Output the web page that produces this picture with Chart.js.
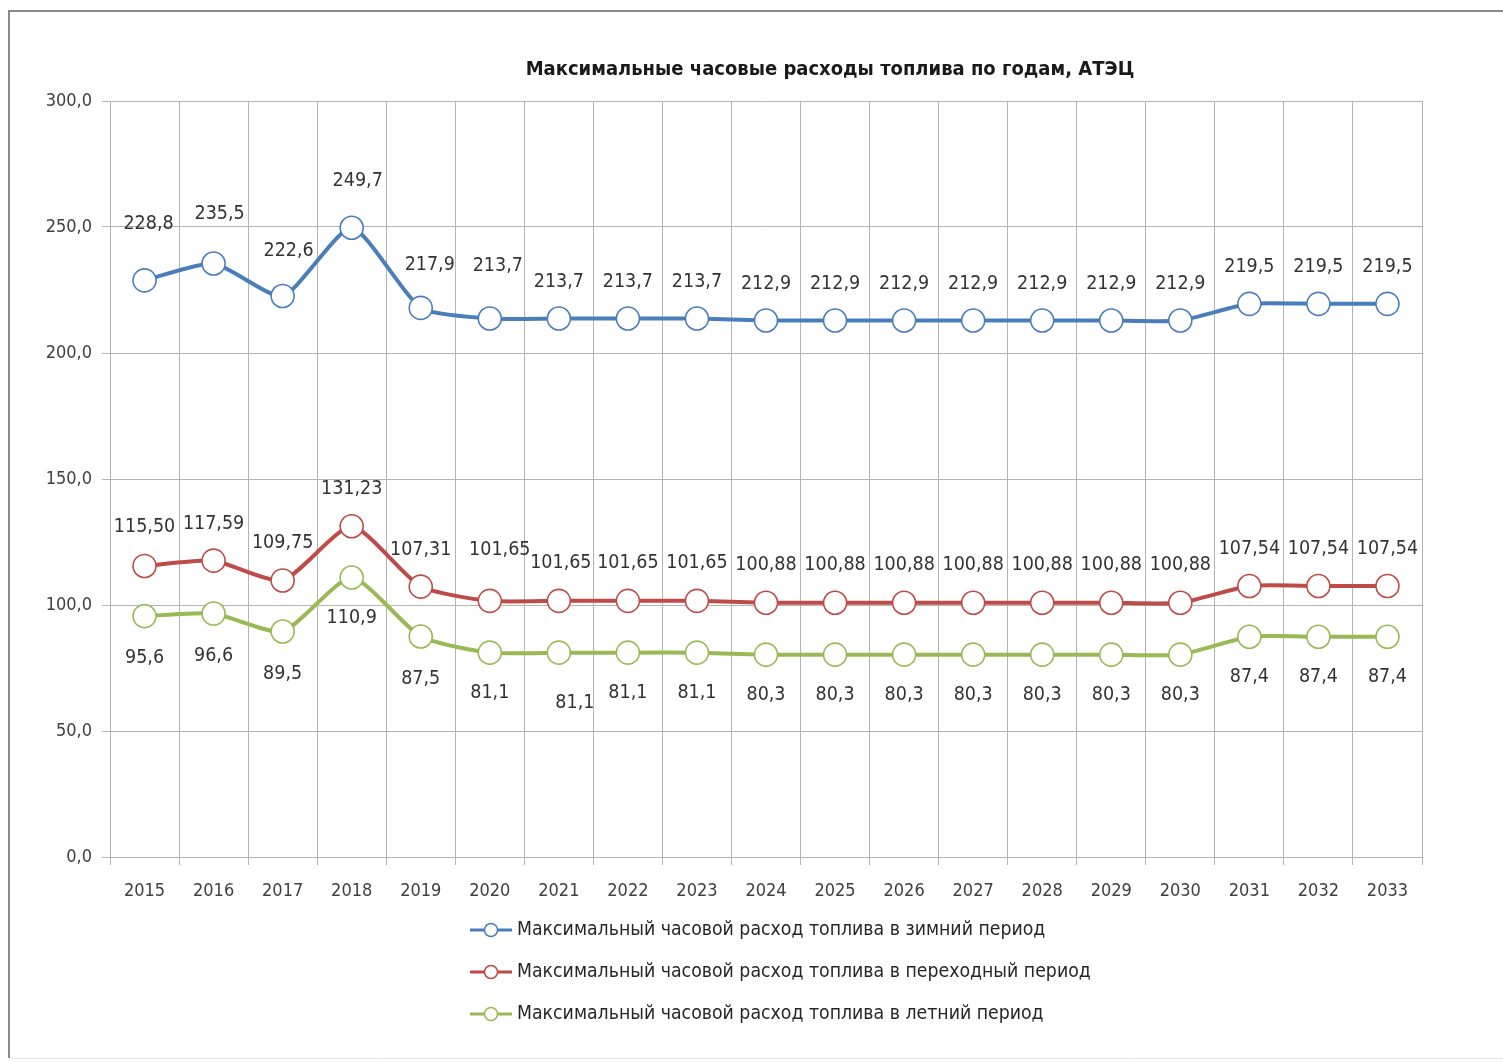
<!DOCTYPE html>
<html>
<head>
<meta charset="utf-8">
<script src="https://cdn.jsdelivr.net/npm/chart.js@4/dist/chart.umd.min.js"></script>
<style>
  html, body { margin: 0; padding: 0; background: #fff; }
  #wrap { width: 1503px; height: 1062px; position: relative; }
</style>
</head>
<body>
<div id="wrap"><canvas id="c" width="1503" height="1062"></canvas></div>
<script>
const chartTitle = "Максимальные часовые расходы топлива по годам, АТЭЦ";
const years = ["2015","2016","2017","2018","2019","2020","2021","2022","2023","2024","2025","2026","2027","2028","2029","2030","2031","2032","2033"];
const seriesNames = [
  "Максимальный часовой расход топлива в зимний период",
  "Максимальный часовой расход топлива в переходный период",
  "Максимальный часовой расход топлива в летний период"
];
const winter = [228.8,235.5,222.6,249.7,217.9,213.7,213.7,213.7,213.7,212.9,212.9,212.9,212.9,212.9,212.9,212.9,219.5,219.5,219.5];
const transition = [115.50,117.59,109.75,131.23,107.31,101.65,101.65,101.65,101.65,100.88,100.88,100.88,100.88,100.88,100.88,100.88,107.54,107.54,107.54];
const summer = [95.6,96.6,89.5,110.9,87.5,81.1,81.1,81.1,81.1,80.3,80.3,80.3,80.3,80.3,80.3,80.3,87.4,87.4,87.4];
const yTicks = [0,50,100,150,200,250,300];

// label styling (offsets in pixels relative to each point)
const labelDecimals = [1, 2, 1];
const labelDy = [
  [-56,-50,-45,-47,-43,-53,-37,-37,-37,-37,-37,-37,-37,-37,-37,-37,-37,-37,-37],
  [-39,-37,-37,-37,-37,-51,-38,-38,-38,-38,-38,-38,-38,-38,-38,-38,-37,-37,-37],
  [42,42,42,40,42,40,50,40,40,40,40,40,40,40,40,40,40,40,40]
];
const labelDx = [
  [4,6,6,6,9,8,0,0,0,0,0,0,0,0,0,0,0,0,0],
  [0,0,0,0,0,10,2,0,0,0,0,0,0,0,0,0,0,0,0],
  [0,0,0,0,0,0,16,0,0,0,0,0,0,0,0,0,0,0,0]
];

const FONT = '"DejaVu Sans Condensed", "Liberation Sans Narrow", "DejaVu Sans", sans-serif';
const colors = ['#4a7ebb', '#be4b48', '#98b954'];
const fmt = (v, d) => v.toFixed(d).replace('.', ',');

const frame = {
  id: 'frame',
  beforeDraw(chart) {
    const ctx = chart.ctx;
    ctx.save();
    ctx.fillStyle = '#fff';
    ctx.fillRect(0, 0, chart.width, chart.height);
    ctx.strokeStyle = '#8a8a8a';
    ctx.lineWidth = 2;
    ctx.beginPath();
    ctx.moveTo(9, 1058);
    ctx.lineTo(9, 11);
    ctx.lineTo(1503, 11);
    ctx.stroke();
    ctx.strokeStyle = '#e4e4e4';
    ctx.lineWidth = 1;
    ctx.beginPath();
    ctx.moveTo(9, 1058.5);
    ctx.lineTo(1503, 1058.5);
    ctx.stroke();
    // title
    ctx.fillStyle = '#1a1a1a';
    ctx.font = 'bold 20px ' + FONT;
    ctx.textAlign = 'center';
    ctx.textBaseline = 'middle';
    ctx.fillText(chartTitle, 830, 70);
    ctx.restore();
  },
  afterDatasetsDraw(chart) {
    const ctx = chart.ctx;
    ctx.save();
    ctx.font = '19.5px ' + FONT;
    ctx.fillStyle = '#333';
    ctx.textAlign = 'center';
    ctx.textBaseline = 'middle';
    chart.data.datasets.forEach((ds, i) => {
      const meta = chart.getDatasetMeta(i);
      meta.data.forEach((pt, j) => {
        ctx.fillText(fmt(ds.data[j], labelDecimals[i]), pt.x + labelDx[i][j], pt.y + labelDy[i][j]);
      });
    });
    // legend
    ctx.font = '19.3px ' + FONT;
    ctx.textAlign = 'left';
    ctx.textBaseline = 'middle';
    chart.data.datasets.forEach((ds, i) => {
      const y = 930 + i * 42;
      ctx.strokeStyle = ds.borderColor;
      ctx.lineWidth = 3;
      ctx.beginPath();
      ctx.moveTo(470, y);
      ctx.lineTo(512, y);
      ctx.stroke();
      ctx.beginPath();
      ctx.arc(491, y, 6.5, 0, Math.PI * 2);
      ctx.fillStyle = '#fff';
      ctx.fill();
      ctx.lineWidth = 1.5;
      ctx.stroke();
      ctx.fillStyle = '#262626';
      ctx.fillText(ds.label, 517, y);
    });
    ctx.restore();
  }
};

const mk = (label, data, color) => ({
  label, data,
  borderColor: color,
  backgroundColor: '#fff',
  borderWidth: 4,
  tension: 0.2,
  pointRadius: 11.5,
  pointBorderWidth: 1.6,
  pointBackgroundColor: '#fff',
  pointBorderColor: color,
  pointHoverRadius: 11.5
});

new Chart(document.getElementById('c'), {
  type: 'line',
  data: {
    labels: years,
    datasets: [
      mk(seriesNames[0], winter, colors[0]),
      mk(seriesNames[1], transition, colors[1]),
      mk(seriesNames[2], summer, colors[2])
    ]
  },
  options: {
    responsive: false,
    animation: false,
    devicePixelRatio: 1,
    layout: { padding: { left: 0, right: 81, top: 101, bottom: 0 } },
    plugins: { legend: { display: false }, title: { display: false }, tooltip: { enabled: false } },
    scales: {
      x: {
        offset: true,
        grid: { offset: true, color: '#b3b3b3', lineWidth: 1, drawTicks: true, tickLength: 8, tickColor: '#b3b3b3' },
        border: { color: '#b3b3b3' },
        ticks: { color: '#404040', font: { family: FONT, size: 18 }, padding: 16, maxRotation: 0, autoSkip: false },
        afterFit(s) { s.height = 205; }
      },
      y: {
        min: 0, max: 300,
        afterBuildTicks(s) { s.ticks = yTicks.map(v => ({ value: v })); },
        grid: { color: '#b3b3b3', lineWidth: 1, tickLength: 8, tickColor: '#b3b3b3' },
        border: { color: '#b3b3b3' },
        ticks: { color: '#404040', font: { family: FONT, size: 18 }, padding: 10, callback: v => fmt(v, 1) },
        afterFit(s) { s.width = 110; }
      }
    }
  },
  plugins: [frame]
});
</script>
</body>
</html>
